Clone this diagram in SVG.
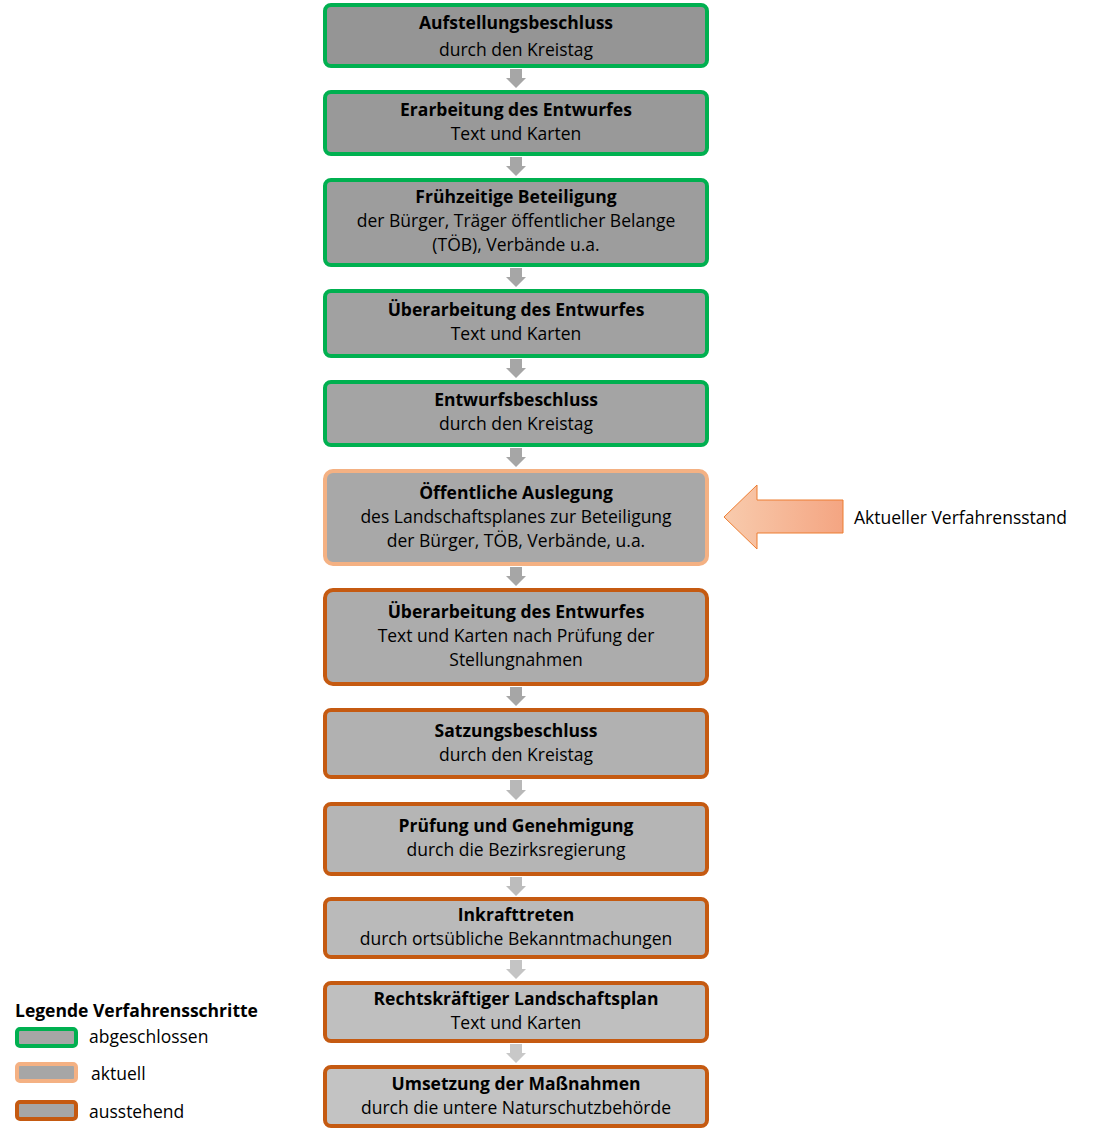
<svg xmlns="http://www.w3.org/2000/svg" width="1110" height="1138" viewBox="0 0 1110 1138">
<style>
text{font-family:"Open Sans","Liberation Sans",sans-serif;font-size:17.5px;fill:#000;text-anchor:middle}
.b{font-weight:bold}
.l{text-anchor:start}
.g{stroke:#00b050}
.o{stroke:#f4b183}
.d{stroke:#c55a11}
rect.n{stroke-width:4}
</style>
<defs>
<linearGradient id="ag" x1="0" y1="0" x2="1" y2="0"><stop offset="0" stop-color="#f8cbad"/><stop offset="1" stop-color="#f4a582"/></linearGradient>
</defs>
<g id="connectors" fill="#a6a6a6">
<path d="M510,69h12v9h4l-10,10l-10,-10h4z"/>
<path d="M510,157h12v9h4l-10,10l-10,-10h4z"/>
<path d="M510,268h12v9h4l-10,10l-10,-10h4z"/>
<path d="M510,359h12v9h4l-10,10l-10,-10h4z"/>
<path d="M510,448h12v9h4l-10,10l-10,-10h4z"/>
<path d="M510,567h12v9h4l-10,10l-10,-10h4z"/>
<path d="M510,687h12v9h4l-10,10l-10,-10h4z"/>
<path d="M510,780h12v10h4l-10,10l-10,-10h4z" fill="#b8b8b8"/>
<path d="M510,877h12v9h4l-10,10l-10,-10h4z" fill="#bcbcbc"/>
<path d="M510,960h12v9h4l-10,10l-10,-10h4z" fill="#c4c4c4"/>
<path d="M510,1044h12v9h4l-10,10l-10,-10h4z" fill="#c8c8c8"/>
</g>
<g id="n1"><rect class="n g" x="325" y="5" width="382" height="61" rx="6" fill="#959595"/><text class="b" x="516" y="29">Aufstellungsbeschluss</text><text x="516" y="56">durch den Kreistag</text></g>
<g id="n2"><rect class="n g" x="325" y="92" width="382" height="62" rx="6" fill="#999"/><text class="b" x="516" y="116">Erarbeitung des Entwurfes</text><text x="516" y="140">Text und Karten</text></g>
<g id="n3"><rect class="n g" x="325" y="180" width="382" height="85" rx="6" fill="#9d9d9d"/><text class="b" x="516" y="203">Frühzeitige Beteiligung</text><text x="516" y="227">der Bürger, Träger öffentlicher Belange</text><text x="516" y="251">(TÖB), Verbände u.a.</text></g>
<g id="n4"><rect class="n g" x="325" y="291" width="382" height="65" rx="6" fill="#a1a1a1"/><text class="b" x="516" y="316">Überarbeitung des Entwurfes</text><text x="516" y="340">Text und Karten</text></g>
<g id="n5"><rect class="n g" x="325" y="382" width="382" height="63" rx="6" fill="#a4a4a4"/><text class="b" x="516" y="406">Entwurfsbeschluss</text><text x="516" y="430">durch den Kreistag</text></g>
<g id="n6"><rect class="n o" x="325" y="471" width="382" height="93" rx="8" fill="#a8a8a8"/><text class="b" x="516" y="499">Öffentliche Auslegung</text><text x="516" y="523">des Landschaftsplanes zur Beteiligung</text><text x="516" y="547">der Bürger, TÖB, Verbände, u.a.</text></g>
<g id="n7"><rect class="n d" x="325" y="590" width="382" height="94" rx="8" fill="#acacac"/><text class="b" x="516" y="618">Überarbeitung des Entwurfes</text><text x="516" y="642">Text und Karten nach Prüfung der</text><text x="516" y="666">Stellungnahmen</text></g>
<g id="n8"><rect class="n d" x="325" y="710" width="382" height="67" rx="6" fill="#b1b1b1"/><text class="b" x="516" y="737">Satzungsbeschluss</text><text x="516" y="761">durch den Kreistag</text></g>
<g id="n9"><rect class="n d" x="325" y="804" width="382" height="70" rx="6" fill="#b5b5b5"/><text class="b" x="516" y="832">Prüfung und Genehmigung</text><text x="516" y="856">durch die Bezirksregierung</text></g>
<g id="n10"><rect class="n d" x="325" y="899" width="382" height="58" rx="6" fill="#bababa"/><text class="b" x="516" y="921">Inkrafttreten</text><text x="516" y="945">durch ortsübliche Bekanntmachungen</text></g>
<g id="n11"><rect class="n d" x="325" y="983" width="382" height="58" rx="6" fill="#bfbfbf"/><text class="b" x="516" y="1005">Rechtskräftiger Landschaftsplan</text><text x="516" y="1029">Text und Karten</text></g>
<g id="n12"><rect class="n d" x="325" y="1067" width="382" height="59" rx="6" fill="#c3c3c3"/><text class="b" x="516" y="1090">Umsetzung der Maßnahmen</text><text x="516" y="1114">durch die untere Naturschutzbehörde</text></g>
<g id="current">
<path d="M724,517L757,485V500H843V533H757V549Z" fill="url(#ag)" stroke="#ed7d31" stroke-width="1"/>
<text class="l" x="854" y="524">Aktueller Verfahrensstand</text>
</g>
<g id="legend">
<text class="b l" x="15" y="1017">Legende Verfahrensschritte</text>
<rect x="17" y="1029" width="59" height="17" rx="3" fill="#a6a6a6" stroke="#00b050" stroke-width="4"/>
<text class="l" x="89" y="1043">abgeschlossen</text>
<rect x="17" y="1064" width="59" height="17" rx="3" fill="#a6a6a6" stroke="#f4b183" stroke-width="4"/>
<text class="l" x="91" y="1080">aktuell</text>
<rect x="17" y="1102" width="59" height="17" rx="3" fill="#a6a6a6" stroke="#c55a11" stroke-width="4"/>
<text class="l" x="89" y="1118">ausstehend</text>
</g>
</svg>
